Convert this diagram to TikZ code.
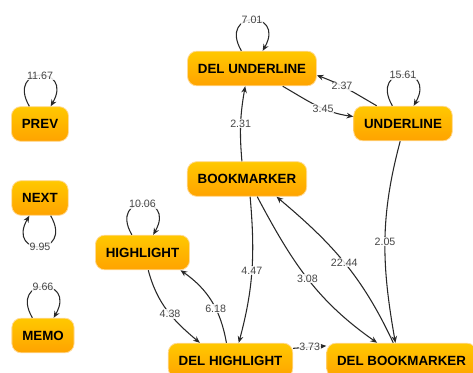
\documentclass[tikz,border=0pt]{standalone}
\usepackage{fontspec}
\setsansfont{Liberation Sans}
\usetikzlibrary{arrows.meta}

\definecolor{boxtop}{RGB}{255,200,0}
\definecolor{boxbot}{RGB}{255,163,0}
\definecolor{boxrim}{RGB}{255,218,150}
\definecolor{edgecol}{RGB}{40,40,40}
\definecolor{ratecol}{RGB}{70,70,70}

\tikzset{
    state/.style={rounded corners=7pt, top color=boxtop, bottom color=boxbot, draw=boxrim, line width=0.6pt,
        minimum height=26pt, inner xsep=7.8pt, font=\sffamily\bfseries\fontsize{10}{12}\selectfont},
    trans/.style={draw=edgecol, line width=0.8pt, -{Stealth[length=5pt,width=4.2pt]}},
    rate/.style={font=\sffamily\fontsize{8}{9}\selectfont, text=ratecol, fill=white, fill opacity=0.85,
        text opacity=1, inner sep=0.6pt},
    loopup/.style={out=120, in=60, looseness=5.7},
    loopdown/.style={out=-60, in=-120, looseness=5.7},
}

\begin{document}
\begin{tikzpicture}[x=0.75pt, y=0.75pt]
    \useasboundingbox (0,0) rectangle (473,372);

    \node (prev) at (40, 248)    [state] {PREV};
    \node (next) at (40, 174)    [state] {NEXT};
    \node (memo) at (43, 36.5)   [state] {MEMO};
    \node (hl)   at (142.5, 119.5) [state] {HIGHLIGHT};
    \node (bm)   at (247, 193)   [state] {BOOKMARKER};
    \node (dul)  at (252, 303.5) [state] {DEL UNDERLINE};
    \node (ul)   at (403, 248.5) [state] {UNDERLINE};
    \node (dhl)  at (230.5, 11.5) [state] {DEL HIGHLIGHT};
    \node (dbm)  at (401.5, 11.5) [state] {DEL BOOKMARKER};

    % self loops
    \draw[trans] ([xshift=-8pt]prev.north) to[loopup] node[rate] {11.67} ([xshift=8pt]prev.north);
    \draw[trans] ([xshift=8pt]next.south) to[loopdown] node[rate] {9.95} ([xshift=-8pt]next.south);
    \draw[trans] ([xshift=-8pt]memo.north) to[loopup] node[rate] {9.66} ([xshift=8pt]memo.north);
    \draw[trans] ([xshift=-8pt]hl.north) to[loopup] node[rate] {10.06} ([xshift=8pt]hl.north);
    \draw[trans] ([xshift=-8pt]dul.north) to[loopup] node[rate] {7.01} ([xshift=8pt]dul.north);
    \draw[trans] ([xshift=-8pt]ul.north) to[loopup] node[rate] {15.61} ([xshift=8pt]ul.north);

    % underline
    \draw[trans] (dul) to[out=-30, in=172] node[rate, pos=0.6] {3.45} (ul);
    \draw[trans] (ul.146) to[out=150, in=-20] node[rate, pos=0.6] {2.37} (dul.-6);
    \draw[trans] (bm.106) to[out=95, in=-100] node[rate] {2.31} (dul.-111);
    \draw[trans] (ul.-99) to[out=-105, in=100] node[rate] {2.05} (dbm.109);

    % bookmarker
    \draw[trans] (bm.-80) to[out=-85, in=75] node[rate] {4.47} (dhl.65);
    \draw[trans] (bm.-60) to[out=-62, in=145] node[rate] {3.08} (dbm.144);
    \draw[trans] (dbm.115) to[out=115, in=-40] node[rate] {22.44} (bm.-31);

    % highlight
    \draw[trans] (hl.-72) to[out=-75, in=140] node[rate, pos=0.55] {4.38} (dhl.150);
    \draw[trans] (dhl.103) to[out=100, in=-35] node[rate, pos=0.4] {6.18} (hl.-25);
    \draw[trans] (dhl.11) -- node[rate] {3.73} (dbm.169);
\end{tikzpicture}
\end{document}
